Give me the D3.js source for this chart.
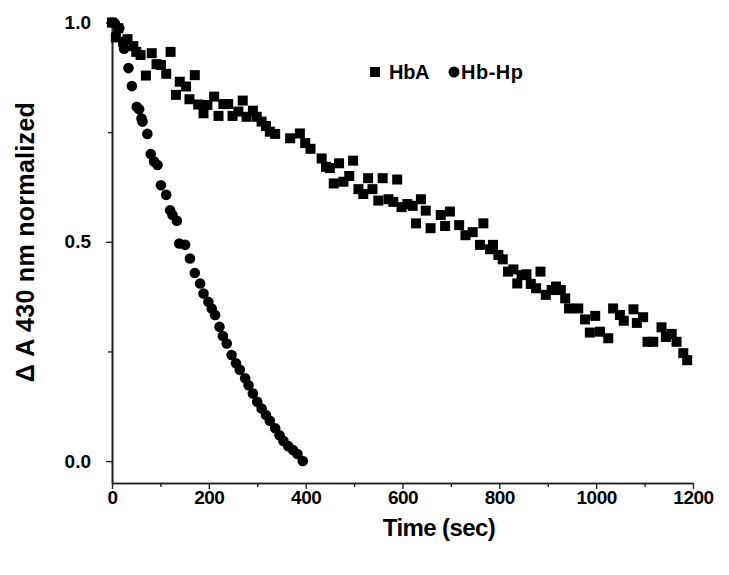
<!DOCTYPE html>
<html><head><meta charset="utf-8">
<script src="https://cdn.jsdelivr.net/npm/d3@7"></script>
<style>body{margin:0;background:#fff;}svg{display:block;}</style>
</head><body>
<svg id="c" width="729" height="575"></svg>
<script>
const hbaTime = [0,8,13,23,32,44,50,59,70,82,92,101,112,121,132,140,153,160,171,178,189,197,211,220,230,240,249,261,270,278,291,299,309,318,326,337,368,388,399,410,433,442,450,458,469,478,490,498,509,519,529,538,550,559,571,581,589,598,610,621,628,638,648,658,679,688,698,717,730,745,760,767,781,787,798,807,818,829,837,846,856,865,876,885,896,908,917,927,936,944,963,977,987,998,1008,1025,1035,1049,1057,1077,1084,1097,1106,1118,1135,1144,1156,1166,1180,1188];
const hbaValue = [1.0,0.966,0.987,0.956,0.962,0.946,0.933,0.926,0.879,0.930,0.905,0.903,0.883,0.933,0.835,0.865,0.854,0.825,0.880,0.813,0.793,0.812,0.831,0.787,0.814,0.814,0.787,0.797,0.822,0.785,0.799,0.785,0.774,0.764,0.751,0.746,0.736,0.747,0.725,0.712,0.690,0.671,0.668,0.633,0.679,0.637,0.650,0.685,0.620,0.609,0.645,0.620,0.594,0.645,0.597,0.591,0.642,0.579,0.586,0.582,0.542,0.597,0.571,0.531,0.561,0.536,0.569,0.538,0.515,0.522,0.493,0.542,0.483,0.493,0.470,0.460,0.432,0.437,0.405,0.424,0.426,0.404,0.394,0.432,0.379,0.390,0.398,0.390,0.371,0.348,0.348,0.323,0.293,0.331,0.295,0.280,0.348,0.333,0.320,0.346,0.315,0.328,0.272,0.272,0.305,0.283,0.290,0.272,0.246,0.230];
const hbhpTime = [0,6,15,25,34,41,51,56,61,63,73,80,87,94,101,112,120,125,134,139,151,161,171,182,189,199,206,213,222,229,237,247,256,264,275,282,291,300,309,318,326,337,346,354,364,374,383,394];
const hbhpValue = [1.0,0.998,0.987,0.940,0.896,0.855,0.808,0.802,0.781,0.774,0.746,0.700,0.683,0.675,0.629,0.607,0.572,0.561,0.548,0.496,0.493,0.462,0.429,0.405,0.382,0.363,0.348,0.333,0.306,0.285,0.268,0.242,0.223,0.208,0.189,0.173,0.154,0.135,0.120,0.105,0.092,0.075,0.059,0.046,0.034,0.025,0.016,0.0];
const xTicks = [0,200,400,600,800,1000,1200];
const yTicks = [0.0,0.5,1.0];
const legendLabels = ["HbA","Hb-Hp"];

const svg = d3.select("#c");
const x = d3.scaleLinear().domain([0,1200]).range([112,693]);
const y = d3.scaleLinear().domain([-0.05,1.0]).range([483,22.5]);
const axisColor = "#222";
const font = "'Liberation Sans', Arial, Helvetica, sans-serif";

// axes
const xAxis = svg.append("g").attr("transform","translate(0,483)")
  .call(d3.axisBottom(x).tickValues(xTicks).tickFormat(d3.format("d")).tickSize(6).tickPadding(2).tickSizeOuter(0));
const xMinor = svg.append("g").attr("transform","translate(0,483)")
  .call(d3.axisBottom(x).tickValues(d3.range(100,1200,200)).tickFormat("").tickSize(4).tickSizeOuter(0));
const yAxis = svg.append("g").attr("transform","translate(112,0)")
  .call(d3.axisLeft(y).tickValues(yTicks).tickFormat(d3.format(".1f")).tickSize(6).tickSizeOuter(0));
const yMinor = svg.append("g").attr("transform","translate(112,0)")
  .call(d3.axisLeft(y).tickValues([0.25,0.75]).tickFormat("").tickSize(4).tickSizeOuter(0));
[xAxis,xMinor,yAxis,yMinor].forEach(g=>{
  g.selectAll("path.domain").attr("stroke",axisColor).attr("stroke-width",1.6);
  g.selectAll(".tick line").attr("stroke",axisColor).attr("stroke-width",1.4);
});
xAxis.selectAll(".tick text").attr("font-family",font).attr("font-weight","bold")
  .attr("font-size",19).attr("fill","#000").attr("letter-spacing","-0.5");
yAxis.selectAll(".tick text").attr("font-family",font).attr("font-weight","bold")
  .attr("font-size",19).attr("fill","#000").attr("dx","-12");

// titles
svg.append("text").attr("x",439).attr("y",536).attr("text-anchor","middle")
  .attr("font-family",font).attr("font-weight","bold").attr("font-size",24).attr("letter-spacing","-0.6")
  .text("Time (sec)");
svg.append("text").attr("transform","translate(34,242) rotate(-90)").attr("text-anchor","middle")
  .attr("font-family",font).attr("font-weight","bold").attr("font-size",25).attr("letter-spacing","0.3")
  .text("Δ A 430 nm normalized");

// data
const hba = hbaTime.map((t,i)=>({t, v: hbaValue[i]}));
const hbhp = hbhpTime.map((t,i)=>({t, v: hbhpValue[i]}));
const sq = 10;
svg.append("g").selectAll("rect").data(hba).join("rect")
  .attr("x",d=>x(d.t)-sq/2).attr("y",d=>y(d.v)-sq/2).attr("width",sq).attr("height",sq).attr("fill","#000");
svg.append("g").selectAll("path").data(hbhp).join("path")
  .attr("d",d3.symbol().type(d3.symbolCircle).size(88))
  .attr("transform",d=>`translate(${x(d.t)},${y(d.v)})`).attr("fill","#000");

// legend
const lg = svg.append("g");
lg.append("rect").attr("x",370).attr("y",67).attr("width",10).attr("height",10).attr("fill","#000");
lg.append("text").attr("x",389).attr("y",79).attr("font-family",font).attr("font-weight","bold")
  .attr("font-size",20).attr("letter-spacing","-0.3").text(legendLabels[0]);
lg.append("circle").attr("cx",454).attr("cy",72).attr("r",5.5).attr("fill","#000");
lg.append("text").attr("x",461).attr("y",79).attr("font-family",font).attr("font-weight","bold")
  .attr("font-size",20).attr("letter-spacing","0.5").text(legendLabels[1]);
</script>
</body></html>
